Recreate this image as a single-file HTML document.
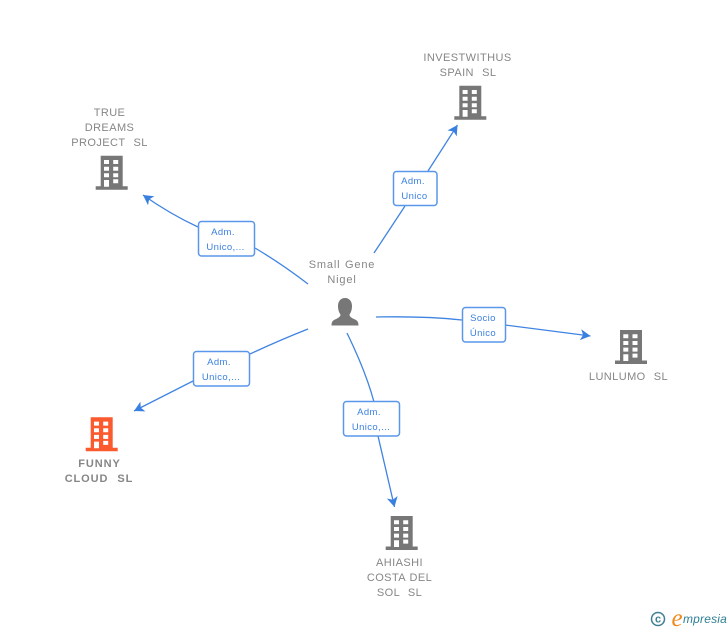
<!DOCTYPE html>
<html><head><meta charset="utf-8"><style>
html,body{margin:0;padding:0;background:#fff}
svg{display:block}
text{font-family:"Liberation Sans",sans-serif;font-size:11px;text-anchor:middle;white-space:pre}
.n{fill:#868686;letter-spacing:.42px;word-spacing:.6px}
.p{letter-spacing:.85px}
.b{font-weight:bold;letter-spacing:.9px}
.l{fill:#3a80e0;font-size:9.5px;letter-spacing:.38px}
.c{fill:none;stroke:#3f84e2;stroke-width:1.3}
.box{fill:#fff;stroke:#5a97ea;stroke-width:1.5}
</style></head><body>
<svg width="728" height="630" viewBox="0 0 728 630" xmlns="http://www.w3.org/2000/svg">
<defs>
<marker id="a" markerUnits="userSpaceOnUse" markerWidth="14" markerHeight="14" refX="10" refY="6" orient="auto"><path d="M0 0.500L10 6L0 11.500L2.500 6Z" fill="#3a80e0"/></marker>
<symbol id="bld" width="32" height="35" viewBox="0 0 32 35" overflow="visible">
<path fill-rule="evenodd" fill="currentColor" d="M5 0H27V30.500H32V34H0V30.500H5ZM8.300 4.300V8.300H13.300V4.300ZM17.500 4.300V8.300H22.500V4.300ZM8.300 11V15H13.300V11ZM17.500 11V15H22.500V11ZM8.300 17.600V21.600H13.300V17.600ZM17.500 17.600V21.600H22.500V17.600ZM8.300 24.300V31H13.300V24.300ZM17.500 23.600V27.600H22.500V23.600Z"/>
</symbol>
</defs>

<path class="c" d="M374 253L405 206"/><path class="c" d="M428 171L457.500 125" marker-end="url(#a)"/>
<path class="c" d="M308 284Q282 264 255 248"/><path class="c" d="M198 227Q170 214 143 195" marker-end="url(#a)"/>
<path class="c" d="M376 317Q425 316 462 320"/><path class="c" d="M505 325L590.500 336" marker-end="url(#a)"/>
<path class="c" d="M347 333Q366 372 374 402"/><path class="c" d="M378 436L394.500 507" marker-end="url(#a)"/>
<path class="c" d="M308 329Q280 340 250 354"/><path class="c" d="M193 381L134 411" marker-end="url(#a)"/>

<rect class="box" x="393.500" y="171.500" width="43.500" height="34" rx="3"/>
<text class="l" x="413" y="184">Adm.</text><text class="l" x="414.500" y="199">Unico</text>
<rect class="box" x="198.500" y="221.500" width="56" height="34.500" rx="3"/>
<text class="l" x="223" y="235">Adm.</text><text class="l" x="225.500" y="250">Unico,...</text>
<rect class="box" x="462.500" y="307.500" width="43" height="34.500" rx="3"/>
<text class="l" x="483" y="321">Socio</text><text class="l" x="483" y="336">Único</text>
<rect class="box" x="343.500" y="401.500" width="56" height="34.500" rx="3"/>
<text class="l" x="369" y="415">Adm.</text><text class="l" x="371" y="430">Unico,...</text>
<rect class="box" x="193.500" y="351.500" width="56" height="34.500" rx="3"/>
<text class="l" x="219" y="365">Adm.</text><text class="l" x="221" y="380">Unico,...</text>

<use href="#bld" x="95.700" y="155.700" color="#777"/>
<use href="#bld" x="454.300" y="85.700" color="#777"/>
<use href="#bld" x="615" y="330" color="#777"/>
<use href="#bld" x="85.700" y="417.300" color="#fb5a2e"/>
<use href="#bld" x="385.700" y="516" color="#777"/>

<text class="n" x="109.500" y="116">TRUE</text>
<text class="n" x="109.500" y="131">DREAMS</text>
<text class="n" x="109.500" y="146">PROJECT  SL</text>
<text class="n" x="467.500" y="61">INVESTWITHUS</text>
<text class="n" x="468" y="76">SPAIN  SL</text>
<text class="n p" x="342" y="268">Small Gene</text>
<text class="n p" x="342" y="283">Nigel</text>
<text class="n" x="628.500" y="380">LUNLUMO  SL</text>
<text class="n b" x="99.500" y="467">FUNNY</text>
<text class="n b" x="99" y="482">CLOUD  SL</text>
<text class="n" x="399.500" y="566">AHIASHI</text>
<text class="n" x="399.500" y="581">COSTA DEL</text>
<text class="n" x="399.500" y="596">SOL  SL</text>

<path fill="#777" d="M345 298C349.500 298 352 301.500 352 306C352 309.500 351 312.500 349.500 314.500C349.500 317 352 318 355 319.500C358 320.800 358.500 323 358.500 325.500H331.500C331.500 323 332 320.800 335 319.500C338 318 340.500 317 340.500 314.500C339 312.500 338 309.500 338 306C338 301.500 340.500 298 345 298Z"/>

<circle cx="658" cy="619" r="6.500" fill="none" stroke="#3d7f95" stroke-width="1.500"/>
<text x="658" y="622.500" style="font-size:11px;font-weight:bold;fill:#3d7f95">c</text>
<text x="677" y="626" style="font-family:'Liberation Serif',serif;font-style:italic;font-size:25px;fill:#f08a1d">e</text>
<text x="705" y="623" style="font-family:'Liberation Sans',sans-serif;font-style:italic;font-size:12px;fill:#2e7f95;letter-spacing:.2px">mpresia</text>
</svg>
</body></html>
